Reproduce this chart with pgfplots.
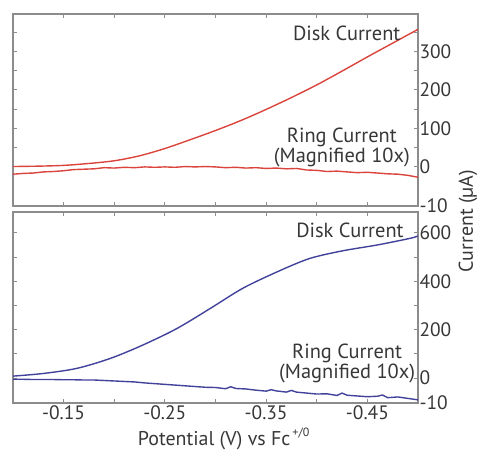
\documentclass[border=0pt]{standalone}
\usepackage{pgfplots}
\pgfplotsset{compat=1.18}
\usepackage{fontspec}
\setmainfont{PT Sans}
\definecolor{cred}{RGB}{218,68,60}
\definecolor{cblue}{RGB}{66,66,155}
\definecolor{axgray}{RGB}{140,140,140}
\definecolor{txtgray}{RGB}{55,55,55}
\pgfplotsset{
  rdeaxis/.style={
    scale only axis, width=405bp,
    xmin=-0.5, xmax=-0.1, x dir=reverse,
    axis line style={axgray, line width=1.2bp},
    every tick/.style={axgray, line width=0.8bp},
    major tick length=4bp, minor tick length=4bp,
    xtick={-0.15,-0.25,-0.35,-0.45},
    minor xtick={-0.2,-0.3,-0.4},
    yticklabel pos=right,
    tick label style={font=\fontsize{19.5}{19.5}\selectfont, text=txtgray},
    /pgf/number format/assume math mode=true,
    clip=false,
  }
}
\begin{document}
\begin{tikzpicture}[x=1bp,y=1bp]
\useasboundingbox (0,0) rectangle (480,-451);
% top panel
\begin{axis}[rdeaxis, at={(13bp,-14bp)}, anchor=north west, height=192bp,
  ymin=-103, ymax=398,
  ytick={-103,0,100,200,300}, yticklabels={-10,0,100,200,300},
  minor ytick={50,150,250,350},
  xticklabels={},
  yticklabel style={xshift=-2bp}]
\addplot[cred, line width=1.4bp, smooth] coordinates {
(-0.100,0) (-0.125,1) (-0.150,3) (-0.175,8) (-0.200,15) (-0.225,28)
(-0.250,47) (-0.275,70) (-0.300,94) (-0.325,120) (-0.350,149)
(-0.375,180) (-0.400,213) (-0.425,249) (-0.450,286) (-0.475,322) (-0.500,358)};
\addplot[cred, line width=1.4bp] coordinates {
(-0.10,-20) (-0.11,-18) (-0.12,-17) (-0.13,-14) (-0.14,-13) (-0.15,-11)
(-0.16,-8) (-0.17,-7) (-0.18,-6) (-0.19,-3) (-0.20,-4) (-0.21,-2)
(-0.22,-3) (-0.23,-1) (-0.24,-2) (-0.25,-1) (-0.26,-2) (-0.27,0)
(-0.28,-1) (-0.29,0) (-0.30,-1) (-0.31,-3) (-0.32,-2) (-0.33,-4)
(-0.34,-3) (-0.35,-5) (-0.36,-4) (-0.37,-6) (-0.38,-5) (-0.39,-9)
(-0.40,-10) (-0.41,-13) (-0.42,-12) (-0.43,-14) (-0.44,-16) (-0.45,-15)
(-0.46,-17) (-0.47,-19) (-0.48,-20) (-0.49,-23) (-0.50,-28)};
\node[anchor=east, text=txtgray, font=\fontsize{20.5}{20.5}\selectfont, inner sep=0pt]
  at (rel axis cs:0.957,0.90) {Disk Current};
\node[align=center, text=txtgray, font=\fontsize{20.5}{18}\selectfont, inner sep=0pt]
  at (rel axis cs:0.812,0.305) {Ring Current\\(Magnified 10x)};
\end{axis}
% bottom panel
\begin{axis}[rdeaxis, at={(13bp,-212bp)}, anchor=north west, height=191bp,
  ymin=-103, ymax=686,
  ytick={-103,0,200,400,600}, yticklabels={-10,0,200,400,600},
  minor ytick={100,300,500},
  xticklabels={-0.15,-0.25,-0.35,-0.45},
  yticklabel style={xshift=-2bp},
  xticklabel style={yshift=1bp}]
\addplot[cblue, line width=1.4bp, smooth] coordinates {
(-0.100,8) (-0.130,19) (-0.163,40) (-0.196,81) (-0.228,136) (-0.262,205)
(-0.295,288) (-0.327,371) (-0.361,439) (-0.393,494) (-0.426,526)
(-0.460,550) (-0.492,577) (-0.500,587)};
\addplot[cblue, line width=1.4bp] coordinates {
(-0.10,-5) (-0.11,-5) (-0.12,-6) (-0.13,-6) (-0.14,-6) (-0.15,-7)
(-0.16,-7) (-0.17,-8) (-0.18,-8) (-0.19,-10) (-0.20,-12) (-0.21,-14)
(-0.22,-16) (-0.23,-20) (-0.24,-23) (-0.25,-26) (-0.26,-29) (-0.27,-32)
(-0.28,-35) (-0.29,-38) (-0.30,-39) (-0.31,-44) (-0.315,-36) (-0.32,-43)
(-0.33,-45) (-0.34,-50) (-0.35,-54) (-0.355,-48) (-0.36,-53) (-0.37,-58)
(-0.375,-51) (-0.38,-58) (-0.39,-62) (-0.40,-66) (-0.41,-65) (-0.42,-72)
(-0.425,-62) (-0.43,-71) (-0.44,-74) (-0.45,-77) (-0.46,-75) (-0.465,-70)
(-0.47,-81) (-0.48,-78) (-0.49,-84) (-0.50,-90)};
\node[anchor=east, text=txtgray, font=\fontsize{20.5}{20.5}\selectfont, inner sep=0pt]
  at (rel axis cs:0.965,0.906) {Disk Current};
\node[align=center, text=txtgray, font=\fontsize{20.5}{18}\selectfont, inner sep=0pt]
  at (rel axis cs:0.825,0.207) {Ring Current\\(Magnified 10x)};
\node[text=txtgray, font=\fontsize{20}{20}\selectfont, inner sep=0pt]
  at (rel axis cs:0.52,-0.19) {Potential (V) vs Fc\raisebox{9bp}{\fontsize{12}{12}\selectfont\,+/0}};
\end{axis}
\node[rotate=90, text=txtgray, font=\fontsize{20}{20}\selectfont, inner sep=0pt]
  at (468,-221) {Current (µA)};
\end{tikzpicture}
\end{document}
